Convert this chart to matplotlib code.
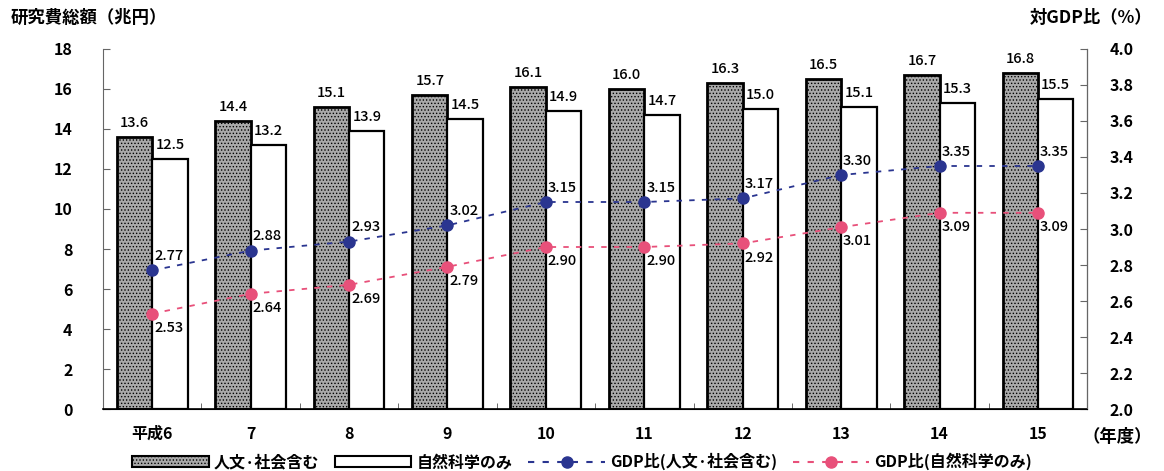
import matplotlib.pyplot as plt
from matplotlib.patches import Patch
from matplotlib.lines import Line2D
import numpy as np

plt.rcParams['font.family'] = ['Noto Sans CJK JP', 'DejaVu Sans']
plt.rcParams['hatch.color'] = '#6a6a6a'
plt.rcParams['hatch.linewidth'] = 0.6

# data
years = ['平成6', '7', '8', '9', '10', '11', '12', '13', '14', '15']
total_all = [13.6, 14.4, 15.1, 15.7, 16.1, 16.0, 16.3, 16.5, 16.7, 16.8]
total_nat = [12.5, 13.2, 13.9, 14.5, 14.9, 14.7, 15.0, 15.1, 15.3, 15.5]
gdp_all = [2.77, 2.88, 2.93, 3.02, 3.15, 3.15, 3.17, 3.30, 3.35, 3.35]
gdp_nat = [2.53, 2.64, 2.69, 2.79, 2.90, 2.90, 2.92, 3.01, 3.09, 3.09]

navy = '#2a3590'
pink = '#e8507a'

fig = plt.figure(figsize=(11.64, 4.71), dpi=100)
ax = fig.add_axes([0.0885, 0.1316, 0.8455, 0.7644])
ax2 = ax.twinx()

x = np.arange(len(years))
w = 0.36

ax.bar(x - w / 2, total_all, w, color='#a9a9a9', edgecolor='black',
       linewidth=2, hatch='.....', zorder=2)
ax.bar(x + w / 2, total_nat, w, color='white', edgecolor='black',
       linewidth=1.6, zorder=2)

for i in range(len(years)):
    ax.text(x[i] - w / 2, total_all[i] + 0.35, '%.1f' % total_all[i],
            ha='center', va='bottom', fontsize=10.5, fontweight='medium')
    ax.text(x[i] + w / 2, total_nat[i] + 0.35, '%.1f' % total_nat[i],
            ha='center', va='bottom', fontsize=10.5, fontweight='medium')

ax2.plot(x, gdp_all, linestyle=(0, (3, 4)), color=navy, linewidth=1.3,
         marker='o', markersize=8, zorder=5)
ax2.plot(x, gdp_nat, linestyle=(0, (3, 4)), color=pink, linewidth=1.3,
         marker='o', markersize=8, zorder=5)

for i in range(len(years)):
    ax2.text(x[i] + 0.02, gdp_all[i] + 0.04, '%.2f' % gdp_all[i],
             ha='left', va='bottom', fontsize=10.5, fontweight='medium', zorder=6)
    ax2.text(x[i] + 0.02, gdp_nat[i] - 0.04, '%.2f' % gdp_nat[i],
             ha='left', va='top', fontsize=10.5, fontweight='medium', zorder=6)

ax.set_xlim(-0.5, len(years) - 0.5)
ax.set_ylim(0, 18)
ax.set_yticks(range(0, 19, 2))
ax2.set_ylim(2.0, 4.0)
ax2.set_yticks(np.arange(2.0, 4.01, 0.2))
ax2.set_yticklabels(['%.1f' % v for v in np.arange(2.0, 4.01, 0.2)])

ax.set_xticks(x)
ax.set_xticklabels(years, fontsize=11.5, fontweight='bold')
ax.set_xticks(np.arange(0.5, len(years) - 1, 1), minor=True)
ax.tick_params(axis='x', which='major', length=0, pad=12)
ax.tick_params(axis='x', which='minor', length=4, direction='in', color='#555555')
ax.tick_params(axis='y', direction='in', length=5, pad=22, labelsize=11.5,
               color='#666666')
ax2.tick_params(axis='y', direction='in', length=5, pad=16, labelsize=11.5,
                color='#666666')
for lab in ax.get_yticklabels() + ax2.get_yticklabels():
    lab.set_fontweight('bold')

for a in (ax, ax2):
    a.spines['top'].set_visible(False)
ax.spines['left'].set_color('#666666')
ax2.spines['right'].set_color('#666666')
ax2.spines['left'].set_visible(False)
ax.spines['bottom'].set_linewidth(1.2)

fig.text(0.009, 0.962, '研究費総額（兆円）', fontsize=12.5, fontweight='bold',
         va='center', ha='left')
fig.text(0.99, 0.962, '対GDP比（%）', fontsize=12.5, fontweight='bold',
         va='center', ha='right')
fig.text(0.99, 0.072, '（年度）', fontsize=12.5, fontweight='bold',
         va='center', ha='right')

handles = [
    Patch(facecolor='#a9a9a9', edgecolor='black', hatch='.....', linewidth=1.5),
    Patch(facecolor='white', edgecolor='black', linewidth=1.5),
    Line2D([], [], color=navy, linestyle=(0, (3, 4)), marker='o', markersize=8),
    Line2D([], [], color=pink, linestyle=(0, (3, 4)), marker='o', markersize=8),
]
labels = ['人文·社会含む', '自然科学のみ', 'GDP比(人文·社会含む)', 'GDP比(自然科学のみ)']
leg = fig.legend(handles, labels, loc='center', bbox_to_anchor=(0.5, 0.02),
                 ncol=4, frameon=False, fontsize=11.5, handlelength=4.8,
                 handleheight=0.6, columnspacing=1.0, handletextpad=0.3,
                 prop={'weight': 'bold', 'size': 11.5})

fig.savefig('out.png', dpi=100)
